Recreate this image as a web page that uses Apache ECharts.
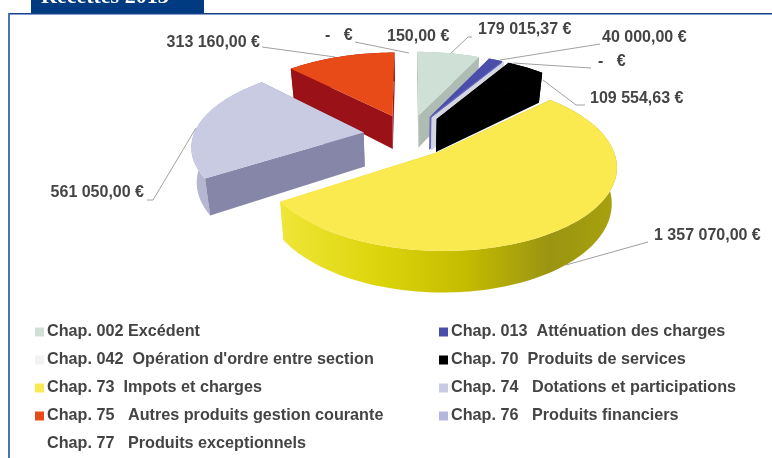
<!DOCTYPE html>
<html>
<head>
<meta charset="utf-8">
<style>html,body{margin:0;padding:0;background:#fff}#main{width:772px;height:458px}</style>
<script src="https://cdn.jsdelivr.net/npm/echarts@6/dist/echarts.min.js"></script>
</head>
<body>
<div id="main"></div>
<script>
// chapitres et montants, sens horaire depuis midi
const chapters = [
    'Chap. 002 Excédent',
    'Chap. 013  Atténuation des charges',
    "Chap. 042  Opération d'ordre entre section",
    'Chap. 70  Produits de services',
    'Chap. 73  Impots et charges',
    'Chap. 74   Dotations et participations',
    'Chap. 75   Autres produits gestion courante',
    'Chap. 76   Produits financiers',
    'Chap. 77   Produits exceptionnels'
];
const amounts = [179015.37, 40000, 0, 109554.63, 1357070, 561050, 313160, 0, 150];

// couleurs
const topColors = ['#cfe0d6', '#4a4eaa', '#f2f2f2', '#000000', '#fbe950', '#c9cbe3', '#e84a18', '#b4b7dc', '#ffffff'];
const wallColors = ['#aebcb3', '#6668b8', '#d4d6e2', '#000000', '#d8d000', '#8586a8', '#9a1218', '#ffffff', '#ffffff'];
const rimColors = ['#aebcb3', '#6668b8', '#d4d6e2', '#000000', '#d8d000', '#b4b6d2', '#9a1218', '#ffffff', '#ffffff'];

// étiquettes : [montant, x, y, alignement], dans l'ordre des chapitres
const labelSpots = [
    [0, 478, 30, 'left'],
    [1, 602, 38, 'left'],
    [2, 598, 62, 'left'],
    [3, 590, 99, 'left'],
    [4, 654, 236, 'left'],
    [5, 144, 193, 'right'],
    [6, 260, 43, 'right'],
    [7, 325, 36, 'left'],
    [8, 387, 37, 'left']
];
const leaders = [
    [[472, 37], [468, 37], [449, 55]],
    [[600, 44], [500, 60]],
    [[591, 68], [513, 63]],
    [[585, 105], [576, 105], [543, 80]],
    [[648, 242], [566, 265]],
    [[147, 200], [153, 200], [196, 128]],
    [[262, 47], [335, 57]],
    [[355, 42], [409, 53]]
];

// vue perspective du camembert
const view = {cx: 409, cy: 135, rx: 170, ry: 78.3, explode: 0.27, persp: 0.15, depth: 34, taper: 0.025};
const total = amounts.reduce((a, b) => a + b, 0);
const starts = [];
amounts.reduce((sum, v, i) => { starts[i] = sum; return sum + v; }, 0);

function project(x, y, z) {
    const s = 1 / (1 - view.persp * y);
    return [view.cx + view.rx * x * s * (1 - view.taper * z), view.cy + (view.ry * y + view.depth * z) * s];
}

function makeRender(i) {
    return function (params, api) {
        const a0 = starts[i] / total * Math.PI * 2;
        const a1 = a0 + api.value(0) / total * Math.PI * 2;
        const mid = (a0 + a1) / 2;
        const ox = Math.sin(mid) * view.explode, oy = -Math.cos(mid) * view.explode;

        const arc = [];
        const steps = Math.max(1, Math.ceil((a1 - a0) / 0.03));
        for (let k = 0; k <= steps; k++) {
            const a = a0 + (a1 - a0) * k / steps;
            arc.push([ox + Math.sin(a), oy - Math.cos(a)]);
        }
        const up = p => project(p[0], p[1], 0);
        const down = p => project(p[0], p[1], 1);
        const apex = [ox, oy];
        const z2 = Math.round(oy * 100) + 100;

        let rimFill = rimColors[i];
        let wallFill = wallColors[i];
        if (i === 4) {
            rimFill = new echarts.graphic.LinearGradient(281, 0, 617, 0, [
                {offset: 0, color: '#efe638'},
                {offset: 0.3, color: '#dcd40a'},
                {offset: 0.55, color: '#c4bc00'},
                {offset: 0.8, color: '#9a9412'},
                {offset: 1, color: '#a8a20e'}
            ], true);
            wallFill = rimFill;
        }
        const poly = (points, fill, z) => ({
            type: 'polygon', z2: z2 + z,
            shape: {points: points},
            style: {fill: fill, stroke: null}
        });
        const first = arc[0], last = arc[arc.length - 1];
        return {
            type: 'group',
            children: [
                poly(arc.map(up).concat(arc.slice().reverse().map(down)), rimFill, 0),
                poly([up(apex), up(first), down(first), down(apex)], wallFill, 1),
                poly([up(apex), up(last), down(last), down(apex)], wallFill, 1),
                poly([up(apex)].concat(arc.map(up)), topColors[i], 2)
            ]
        };
    };
}

function euro(v) {
    if (v === 0) return '-   €';
    const parts = v.toFixed(2).split('.');
    return parts[0].replace(/\B(?=(\d{3})+$)/g, ' ') + ',' + parts[1] + ' €';
}

const labelFont = 'bold 16px "Liberation Sans", Arial, sans-serif';

const frame = [
    {type: 'rect', shape: {x: 31, y: 0, width: 173, height: 14}, style: {fill: '#003a80'}},
    {type: 'text', x: 41, y: 8, style: {text: 'Recettes 2013', fill: '#fff', font: 'bold 22px "Liberation Serif", serif', textVerticalAlign: 'bottom'}},
    {type: 'rect', shape: {x: 8, y: 13, width: 764, height: 1}, style: {fill: '#1c3f80'}},
    {type: 'rect', shape: {x: 8, y: 14, width: 764, height: 1}, style: {fill: '#7f9fd0'}},
    {type: 'rect', shape: {x: 8, y: 13, width: 2, height: 445}, style: {fill: '#4a72b8'}}
];
const leaderLines = leaders.map(pts => ({
    type: 'polyline', shape: {points: pts}, style: {fill: null, stroke: '#a0a0a0', lineWidth: 1}
}));
const labelTexts = labelSpots.map(s => ({
    type: 'text', x: s[1], y: s[2],
    style: {text: euro(amounts[s[0]]), font: labelFont, fill: '#444444', textAlign: s[3], textVerticalAlign: 'middle'}
}));

const legendBase = {
    orient: 'vertical', selectedMode: false, icon: 'rect',
    itemWidth: 9, itemHeight: 9, itemGap: 12, padding: 0,
    textStyle: {fontFamily: '"Liberation Sans", Arial, sans-serif', fontWeight: 'bold', fontSize: 16.2, color: '#444444', padding: [0, 0, 0, -2]}
};

const chart = echarts.init(document.getElementById('main'));
chart.setOption({
    animation: false,
    color: topColors,
    legend: [
        Object.assign({}, legendBase, {left: 35, top: 324, data: chapters.filter((c, i) => i % 2 === 0)}),
        Object.assign({}, legendBase, {left: 439, top: 324, data: chapters.filter((c, i) => i % 2 === 1)})
    ],
    series: chapters.map((name, i) => ({
        type: 'custom',
        name: name,
        coordinateSystem: 'none',
        silent: true,
        itemStyle: {color: topColors[i]},
        renderItem: makeRender(i),
        data: [[amounts[i]]]
    })),
    graphic: frame.concat(leaderLines, labelTexts)
});
</script>
</body>
</html>
